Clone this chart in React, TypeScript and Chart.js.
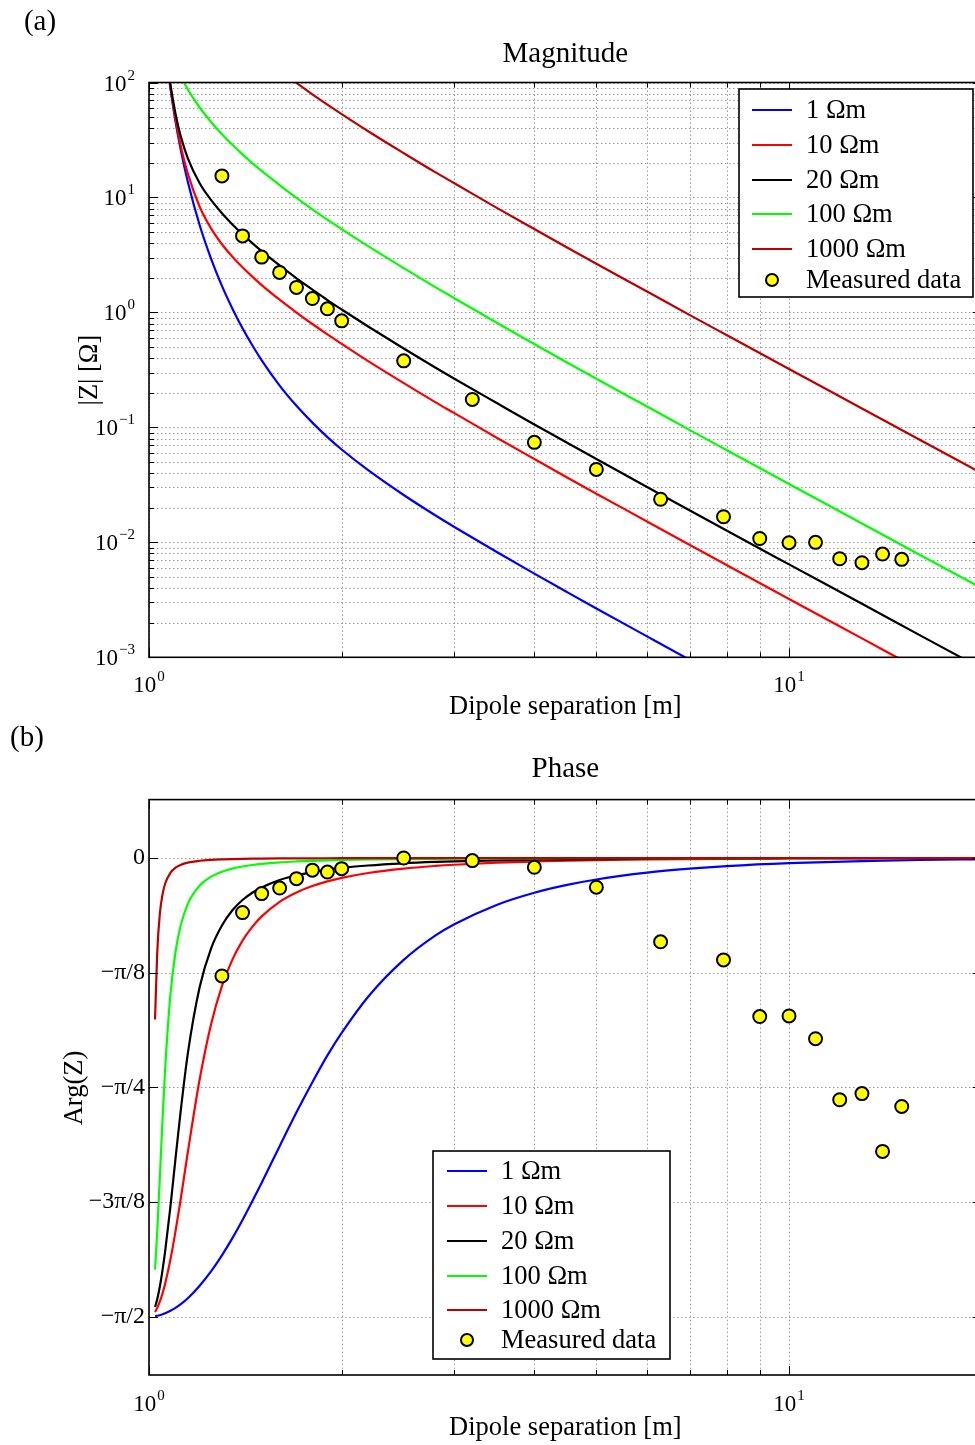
import React, { useEffect, useRef } from "react";
import { Chart, registerables } from "chart.js";

Chart.register(...registerables);

const FONT = "'Liberation Serif', 'Times New Roman', serif";

// ---------- series ----------
const seriesLabels = ["1 Ωm", "10 Ωm", "20 Ωm", "100 Ωm", "1000 Ωm"];
const seriesColors = ["#0000ff", "#ff0000", "#000000", "#00ff00", "#bf0000"];
const measuredLabel = "Measured data";

const modelX = [1.022, 1.03, 1.04, 1.05, 1.06, 1.08, 1.1, 1.12, 1.15, 1.2, 1.25, 1.3, 1.35, 1.4, 1.45, 1.5, 1.6, 1.7, 1.8, 1.9, 2, 2.2, 2.5, 2.8, 3, 3.5, 4, 4.5, 5, 6, 7, 8, 10, 13, 16, 20];

const magRho1 = [4320, 1704, 719, 368, 213, 89.8, 46.0, 26.6, 13.6, 5.73, 2.94, 1.70, 1.078, 0.728, 0.518, 0.383, 0.231, 0.154, 0.110, 0.0823, 0.0642, 0.0424, 0.0258, 0.0172, 0.0136, 0.00819, 0.00534, 0.00369, 0.00266, 0.00152, 0.000948, 0.000632, 0.000322, 0.000146, 0.000078, 0.0000399];
const magRho10 = [4321, 1704, 720, 369, 214, 91.5, 48.0, 28.8, 16.1, 8.30, 5.38, 3.92, 3.05, 2.47, 2.05, 1.73, 1.29, 0.998, 0.793, 0.644, 0.532, 0.377, 0.243, 0.166, 0.133, 0.0809, 0.0531, 0.0367, 0.0265, 0.0152, 0.00947, 0.00632, 0.00322, 0.00146, 0.00078, 0.000399];
const magRho20 = [4322, 1707, 723, 373, 218, 96.5, 53.6, 34.7, 21.9, 13.3, 9.51, 7.29, 5.83, 4.79, 4.01, 3.41, 2.56, 1.98, 1.58, 1.28, 1.06, 0.754, 0.485, 0.332, 0.265, 0.162, 0.106, 0.0735, 0.0531, 0.0303, 0.0189, 0.0126, 0.00643, 0.00292, 0.00156, 0.000798];
const magRho100 = [4376, 1778, 811, 472, 323, 199, 145, 115, 86.9, 60.6, 45.4, 35.5, 28.7, 23.7, 19.9, 17.0, 12.8, 9.91, 7.89, 6.42, 5.31, 3.77, 2.43, 1.66, 1.33, 0.808, 0.531, 0.367, 0.265, 0.152, 0.0947, 0.0632, 0.0322, 0.0146, 0.0078, 0.00399];
const magRho1000 = [8227, 5353, 3819, 2980, 2439, 1774, 1379, 1117, 858, 603, 453, 355, 287, 237, 199, 170, 128, 99.1, 78.9, 64.2, 53.1, 37.7, 24.3, 16.6, 13.3, 8.08, 5.31, 3.67, 2.65, 1.52, 0.947, 0.632, 0.322, 0.146, 0.078, 0.0399];

const phaseRho1 = [-1.569, -1.568, -1.566, -1.563, -1.559, -1.551, -1.541, -1.529, -1.508, -1.465, -1.416, -1.361, -1.302, -1.24, -1.176, -1.112, -0.987, -0.871, -0.768, -0.676, -0.599, -0.475, -0.349, -0.266, -0.227, -0.16, -0.119, -0.0922, -0.0736, -0.0502, -0.0365, -0.0277, -0.0176, -0.0104, -0.0068, -0.0044];
const phaseRho10 = [-1.555, -1.541, -1.519, -1.491, -1.457, -1.376, -1.279, -1.173, -1.007, -0.758, -0.57, -0.439, -0.348, -0.283, -0.236, -0.2, -0.15, -0.118, -0.0962, -0.0802, -0.0681, -0.0514, -0.0363, -0.0273, -0.0231, -0.0161, -0.012, -0.0092, -0.0074, -0.005, -0.0037, -0.0028, -0.0018, -0.001, -0.0007, -0.0004];
const phaseRho20 = [-1.538, -1.511, -1.467, -1.411, -1.346, -1.195, -1.03, -0.872, -0.669, -0.442, -0.31, -0.231, -0.179, -0.144, -0.119, -0.101, -0.0756, -0.0593, -0.0482, -0.0401, -0.0341, -0.0257, -0.0182, -0.0136, -0.0115, -0.0081, -0.006, -0.0046, -0.0037, -0.0025, -0.0018, -0.0014, -0.0009, -0.0005, -0.0003, -0.0002];
const phaseRho100 = [-1.41, -1.281, -1.09, -0.894, -0.72, -0.469, -0.322, -0.234, -0.157, -0.0943, -0.064, -0.0469, -0.0362, -0.0291, -0.024, -0.0202, -0.0151, -0.0119, -0.0096, -0.008, -0.0068, -0.0051, -0.0036, -0.0027, -0.0023, -0.0016, -0.0012, -0.0009, -0.0007, -0.0005, -0.0004, -0.0003, -0.0002, -0.0001, -0.0001, 0];
const phaseRho1000 = [-0.553, -0.324, -0.189, -0.124, -0.0874, -0.0507, -0.0333, -0.0238, -0.0158, -0.0095, -0.0064, -0.0047, -0.0036, -0.0029, -0.0024, -0.002, -0.0015, -0.0012, -0.001, -0.0008, -0.0007, -0.0005, -0.0004, -0.0003, -0.0002, -0.0002, -0.0001, -0.0001, -0.0001, 0, 0, 0, 0, 0, 0, 0];

const measX = [1.3, 1.4, 1.5, 1.6, 1.7, 1.8, 1.9, 2.0, 2.5, 3.2, 4.0, 5.0, 6.3, 7.9, 9, 10, 11, 12, 13, 14, 15];
const measMag = [15.4, 4.63, 3.03, 2.23, 1.65, 1.32, 1.075, 0.845, 0.379, 0.175, 0.0741, 0.0431, 0.0237, 0.0167, 0.0108, 0.00993, 0.01, 0.0072, 0.00665, 0.00791, 0.00711];
const measPhase = [-0.404, -0.187, -0.122, -0.103, -0.0707, -0.0417, -0.0482, -0.0365, 0.0, -0.0089, -0.0318, -0.1, -0.287, -0.349, -0.543, -0.541, -0.619, -0.828, -0.807, -1.005, -0.851];

// ---------- ticks ----------
const xGridValues = [1, 2, 3, 4, 5, 6, 7, 8, 9, 10, 20];
const xMajorValues = [1, 10];
const xTickLabels = [
  { v: 1, base: "10", sup: "0" },
  { v: 10, base: "10", sup: "1" },
];
const magDecades = [0.001, 0.01, 0.1, 1, 10, 100];
const magDecadeSup = ["−3", "−2", "−1", "0", "1", "2"];
const minorMultipliers = [2, 3, 4, 5, 6, 7, 8, 9];
const phaseTickValues = [0, -Math.PI / 8, -Math.PI / 4, (-3 * Math.PI) / 8, -Math.PI / 2];
const phaseTickLabels = ["0", "−π/8", "−π/4", "−3π/8", "−π/2"];

const magMinorGrid: number[] = [];
magDecades.slice(0, 5).forEach((d) => minorMultipliers.forEach((m) => magMinorGrid.push(d * m)));

// ---------- decoration plugin ----------
function drawSup(ctx: CanvasRenderingContext2D, base: string, sup: string, x: number, baseline: number, align: "center" | "right") {
  ctx.font = `23px ${FONT}`;
  const wb = ctx.measureText(base).width;
  ctx.font = `15px ${FONT}`;
  const ws = ctx.measureText(sup).width;
  const total = wb + ws + 1;
  const left = align === "right" ? x - total : x - total / 2;
  ctx.textAlign = "left";
  ctx.textBaseline = "alphabetic";
  ctx.font = `23px ${FONT}`;
  ctx.fillText(base, left, baseline);
  ctx.font = `15px ${FONT}`;
  ctx.fillText(sup, left + wb + 1, baseline - 11);
}

const decoPlugin = {
  id: "deco",
  beforeDatasetsDraw(chart: any, _args: any, o: any) {
    const { ctx, chartArea: a, scales } = chart;
    ctx.save();
    ctx.beginPath();
    ctx.rect(a.left, a.top, a.right - a.left, a.bottom - a.top);
    ctx.clip();
    ctx.lineWidth = 1;
    ctx.setLineDash([1.5, 2.5]);
    ctx.strokeStyle = "#9c9c9c";
    for (const v of o.xGrid) {
      const p = Math.round(scales.x.getPixelForValue(v)) + 0.5;
      ctx.beginPath();
      ctx.moveTo(p, a.top);
      ctx.lineTo(p, a.bottom);
      ctx.stroke();
    }
    for (const v of o.yGrid) {
      const p = Math.round(scales.y.getPixelForValue(v)) + 0.5;
      ctx.beginPath();
      ctx.moveTo(a.left, p);
      ctx.lineTo(a.right, p);
      ctx.stroke();
    }
    ctx.restore();
  },
  afterDatasetsDraw(chart: any, _args: any, o: any) {
    const { ctx, chartArea: a, scales } = chart;
    ctx.save();
    ctx.setLineDash([]);
    ctx.strokeStyle = "#000";
    ctx.lineWidth = 1;
    for (const v of o.xGrid) {
      const p = Math.round(scales.x.getPixelForValue(v)) + 0.5;
      const len = o.xMajor.includes(v) ? 9 : 5;
      ctx.beginPath();
      ctx.moveTo(p, a.bottom);
      ctx.lineTo(p, a.bottom - len);
      ctx.moveTo(p, a.top);
      ctx.lineTo(p, a.top + len);
      ctx.stroke();
    }
    for (const v of o.yGrid) {
      const p = Math.round(scales.y.getPixelForValue(v)) + 0.5;
      const len = o.yMajor.includes(v) ? 9 : 5;
      ctx.beginPath();
      ctx.moveTo(a.left, p);
      ctx.lineTo(a.left + len, p);
      ctx.moveTo(a.right, p);
      ctx.lineTo(a.right - len, p);
      ctx.stroke();
    }
    ctx.lineWidth = 1.6;
    ctx.strokeRect(a.left, a.top, a.right - a.left, a.bottom - a.top);

    ctx.fillStyle = "#000";
    for (const t of o.xLabels) {
      drawSup(ctx, t.base, t.sup, scales.x.getPixelForValue(t.v), o.xLabelBaseline, "center");
    }
    for (const t of o.yLabels) {
      const py = scales.y.getPixelForValue(t.v);
      if (t.sup !== undefined) {
        drawSup(ctx, t.base, t.sup, o.yLabelRight, py + 8, "right");
      } else {
        ctx.font = `24px ${FONT}`;
        ctx.textAlign = "right";
        ctx.textBaseline = "middle";
        ctx.fillText(t.base, o.yLabelRight, py);
      }
    }
    ctx.textAlign = "center";
    ctx.textBaseline = "middle";
    ctx.font = `29px ${FONT}`;
    ctx.fillText(o.title, (a.left + a.right) / 2, o.titleY);
    ctx.fillText(o.panel, o.panelXY[0], o.panelXY[1]);
    ctx.font = `26.5px ${FONT}`;
    ctx.fillText(o.xTitle, (a.left + a.right) / 2, o.xTitleY);
    ctx.save();
    ctx.translate(o.yTitleXY[0], o.yTitleXY[1]);
    ctx.rotate(-Math.PI / 2);
    ctx.fillText(o.yTitle, 0, 0);
    ctx.restore();

    const L = o.legend;
    ctx.fillStyle = "#fff";
    ctx.fillRect(L.x, L.y, L.w, L.h);
    ctx.strokeStyle = "#000";
    ctx.lineWidth = 1.6;
    ctx.strokeRect(L.x, L.y, L.w, L.h);
    ctx.font = `26.5px ${FONT}`;
    ctx.textAlign = "left";
    ctx.textBaseline = "middle";
    seriesLabels.forEach((lab, i) => {
      const y = L.rows[i];
      ctx.strokeStyle = seriesColors[i];
      ctx.lineWidth = 2.2;
      ctx.beginPath();
      ctx.moveTo(L.lineX[0], y);
      ctx.lineTo(L.lineX[1], y);
      ctx.stroke();
      ctx.fillStyle = "#000";
      ctx.fillText(lab, L.textX, y + 1);
    });
    const my = L.rows[5];
    ctx.beginPath();
    ctx.arc((L.lineX[0] + L.lineX[1]) / 2, my, 6, 0, Math.PI * 2);
    ctx.fillStyle = "#ffff00";
    ctx.fill();
    ctx.strokeStyle = "#000";
    ctx.lineWidth = 2;
    ctx.stroke();
    ctx.fillStyle = "#000";
    ctx.fillText(measuredLabel, L.textX, my + 1);
    ctx.restore();
  },
};

function makeDatasets(ys: number[][], meas: number[]) {
  const lines = ys.map((arr, i) => ({
    label: seriesLabels[i],
    data: modelX.map((x, j) => ({ x, y: arr[j] })),
    borderColor: seriesColors[i],
    backgroundColor: seriesColors[i],
    borderWidth: 2.2,
    pointRadius: 0,
    cubicInterpolationMode: "monotone" as const,
    fill: false,
  }));
  const measured = {
    label: measuredLabel,
    data: measX.map((x, j) => ({ x, y: meas[j] })),
    showLine: false,
    pointRadius: 6.5,
    pointBackgroundColor: "#ffff00",
    pointBorderColor: "#000",
    pointBorderWidth: 2,
    borderColor: "#000",
    backgroundColor: "#ffff00",
  };
  return [measured, ...lines.reverse()];
}

function baseOptions(yScale: any, padding: any, deco: any) {
  return {
    responsive: false,
    animation: false,
    events: [],
    layout: { padding },
    scales: {
      x: { type: "logarithmic", min: 1, max: 20, display: false },
      y: { ...yScale, display: false },
    },
    plugins: {
      legend: { display: false },
      tooltip: { enabled: false },
      deco,
    },
  };
}

export default function App() {
  const refA = useRef<HTMLCanvasElement>(null);
  const refB = useRef<HTMLCanvasElement>(null);

  useEffect(() => {
    const magDeco = {
      panel: "(a)",
      panelXY: [40, 22],
      title: "Magnitude",
      titleY: 54,
      xTitle: "Dipole separation [m]",
      xTitleY: 707,
      yTitle: "|Z| [Ω]",
      yTitleXY: [90, 370],
      xGrid: xGridValues,
      xMajor: xMajorValues,
      yGrid: [...magDecades, ...magMinorGrid],
      yMajor: magDecades,
      xLabels: xTickLabels,
      xLabelBaseline: 692,
      yLabels: magDecades.map((v, i) => ({ v, base: "10", sup: magDecadeSup[i] })),
      yLabelRight: 135,
      legend: { x: 739, y: 89, w: 234, h: 208, rows: [110, 145, 180, 214, 249, 280], lineX: [752, 792], textX: 806 },
    };
    const phaseDeco = {
      panel: "(b)",
      panelXY: [27, 15],
      title: "Phase",
      titleY: 46,
      xTitle: "Dipole separation [m]",
      xTitleY: 705,
      yTitle: "Arg(Z)",
      yTitleXY: [75, 365],
      xGrid: xGridValues,
      xMajor: xMajorValues,
      yGrid: phaseTickValues,
      yMajor: phaseTickValues,
      xLabels: xTickLabels,
      xLabelBaseline: 688,
      yLabels: phaseTickValues.map((v, i) => ({ v, base: phaseTickLabels[i] })),
      yLabelRight: 145,
      legend: { x: 433, y: 428, w: 237, h: 208, rows: [448, 483, 518, 553, 587, 617], lineX: [447, 487], textX: 501 },
    };

    const chartA = new Chart(refA.current as HTMLCanvasElement, {
      type: "line",
      data: {
        datasets: makeDatasets([magRho1, magRho10, magRho20, magRho100, magRho1000], measMag) as any,
      },
      options: baseOptions(
        { type: "logarithmic", min: 0.001, max: 100 },
        { left: 149, top: 82.5, right: 18.3, bottom: 65.7 },
        magDeco
      ) as any,
      plugins: [decoPlugin],
    });

    const chartB = new Chart(refB.current as HTMLCanvasElement, {
      type: "line",
      data: {
        datasets: makeDatasets([phaseRho1, phaseRho10, phaseRho20, phaseRho100, phaseRho1000], measPhase) as any,
      },
      options: baseOptions(
        { type: "linear", min: -Math.PI / 2 - 0.2, max: 0.2 },
        { left: 149, top: 76.6, right: 18.3, bottom: 70 },
        phaseDeco
      ) as any,
      plugins: [decoPlugin],
    });

    return () => {
      chartA.destroy();
      chartB.destroy();
    };
  }, []);

  return (
    <div style={{ position: "absolute", left: 0, top: 0, width: 975, height: 1445, overflow: "hidden", background: "#fff" }}>
      <canvas ref={refA} width={1000} height={723} style={{ position: "absolute", left: 0, top: 0, width: 1000, height: 723 }} />
      <canvas ref={refB} width={1000} height={722} style={{ position: "absolute", left: 0, top: 723, width: 1000, height: 722 }} />
    </div>
  );
}
